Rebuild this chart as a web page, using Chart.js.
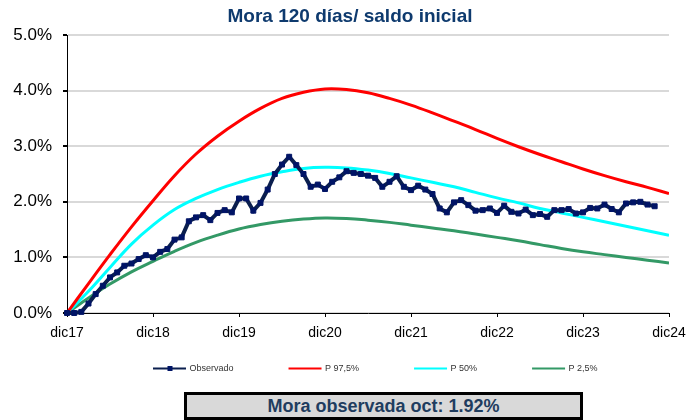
<!DOCTYPE html>
<html>
<head>
<meta charset="utf-8">
<script src="https://cdn.jsdelivr.net/npm/chart.js@4.4.0/dist/chart.umd.min.js"></script>
<style>
  body { margin: 0; background: #fff; }
  #wrap { position: relative; width: 686px; height: 420px; }
  #resumen {
    position: absolute; left: 184px; top: 392px;
    width: 393px; height: 22px;
    border: 3px solid #000; background: #d9d9d9;
    color: #1f3d5f; font: bold 18px "Liberation Sans", Arial, sans-serif;
    line-height: 22px; text-align: center;
  }
</style>
</head>
<body>
<div id="wrap">
  <canvas id="myChart" width="686" height="420"></canvas>
  <div id="resumen">Mora observada oct: 1.92%</div>
</div>
<script>
const CHART_TITLE = 'Mora 120 días/ saldo inicial';
const FONT = '"Liberation Sans", Arial, sans-serif';

// one tick every 12 months, dic17 = month 0
const tickLabels = ['dic17', 'dic18', 'dic19', 'dic20', 'dic21', 'dic22', 'dic23', 'dic24'];

// monthly observed values (%), dic17 .. oct24
const observado = [
    0.00, 0.00, 0.02, 0.17, 0.34, 0.49, 0.64, 0.73, 0.85, 0.89, 0.97, 1.04,
    1.00, 1.10, 1.15, 1.32, 1.36, 1.65, 1.72, 1.76, 1.67, 1.80, 1.85, 1.81,
    2.06, 2.06, 1.84, 1.98, 2.22, 2.50, 2.67, 2.81, 2.66, 2.50, 2.27, 2.31,
    2.23, 2.36, 2.44, 2.55, 2.52, 2.50, 2.47, 2.43, 2.27, 2.36, 2.46, 2.27,
    2.21, 2.29, 2.22, 2.14, 1.88, 1.81, 1.99, 2.03, 1.94, 1.84, 1.85, 1.88,
    1.80, 1.93, 1.82, 1.79, 1.86, 1.76, 1.78, 1.73, 1.85, 1.85, 1.87, 1.79,
    1.81, 1.89, 1.88, 1.95, 1.87, 1.81, 1.97, 1.99, 2.00, 1.95, 1.92
];

// percentile curves, read every 3 months
const curveMonths = [0, 3, 6, 9, 12, 15, 18, 21, 24, 27, 30, 33, 36, 39, 42, 45, 48,
    51, 54, 57, 60, 63, 66, 69, 72, 75, 78, 81, 84];
const p975 = [0, 0.53, 1.05, 1.55, 2.02, 2.47, 2.86, 3.18, 3.45, 3.68, 3.86, 3.97, 4.03,
    4.02, 3.96, 3.86, 3.74, 3.60, 3.45, 3.30, 3.14, 2.99, 2.85, 2.72, 2.59, 2.47, 2.36, 2.26, 2.15];
const p50 = [0, 0.39, 0.82, 1.24, 1.58, 1.86, 2.06, 2.22, 2.35, 2.46, 2.54, 2.60, 2.62,
    2.61, 2.57, 2.51, 2.43, 2.35, 2.27, 2.17, 2.07, 1.98, 1.88, 1.80, 1.72, 1.64, 1.56, 1.48, 1.40];
const p25 = [0, 0.27, 0.52, 0.74, 0.93, 1.11, 1.27, 1.40, 1.51, 1.59, 1.65, 1.69, 1.71,
    1.70, 1.67, 1.63, 1.58, 1.53, 1.48, 1.42, 1.36, 1.30, 1.23, 1.16, 1.10, 1.05, 1.00, 0.95, 0.90];


function toPoints(months, values) {
    return values.map((v, i) => ({ x: months ? months[i] : i, y: v }));
}


function curveDataset(label, values, color) {
    return {
        label: label,
        data: toPoints(curveMonths, values),
        borderColor: color,
        backgroundColor: color,
        borderWidth: 3,
        pointRadius: 0,
        tension: 0.4
    };
}


const titleAndLegend = {  // title on top, legend row under the axis
    id: 'titleAndLegend',
    afterDraw(chart) {
        const ctx = chart.ctx;
        ctx.save();
        ctx.fillStyle = '#0e3a6e';
        ctx.font = 'bold 19px ' + FONT;
        ctx.textAlign = 'center';
        ctx.textBaseline = 'alphabetic';
        ctx.fillText(CHART_TITLE, 350, 21.5);

        ctx.font = '9px ' + FONT;
        ctx.textAlign = 'left';
        ctx.textBaseline = 'middle';
        let x = 153;
        const y = 368.5;
        chart.data.datasets.forEach(ds => {
            ctx.strokeStyle = ds.borderColor;
            ctx.lineWidth = 2;
            ctx.beginPath();
            ctx.moveTo(x, y);
            ctx.lineTo(x + 33, y);
            ctx.stroke();
            if (ds.pointRadius > 0) {
                ctx.fillStyle = ds.pointBackgroundColor;
                ctx.fillRect(x + 14.5, y - 2.5, 5, 5);
            }
            ctx.fillStyle = '#333';
            ctx.fillText(ds.label, x + 36.5, y);
            x += 36.5 + ctx.measureText(ds.label).width + 55;
        });
        ctx.restore();
    }
};


function drawChart() {
    const ctx = document.getElementById('myChart').getContext('2d');
    Chart.defaults.font.family = FONT;
    new Chart(ctx, {
        type: 'line',
        data: {
            datasets: [
                {
                    label: 'Observado',
                    data: toPoints(null, observado),
                    borderColor: '#0b1f4e',
                    backgroundColor: '#0b1f4e',
                    borderWidth: 4,
                    tension: 0,
                    pointStyle: 'rect',
                    pointRadius: 3.5,
                    pointBackgroundColor: '#001466',
                    pointBorderColor: '#001466',
                    pointBorderWidth: 1,
                    clip: false
                },
                curveDataset('P 97,5%', p975, '#ff0000'),
                curveDataset('P 50%', p50, '#00ffff'),
                curveDataset('P 2,5%', p25, '#339966')
            ]
        },
        options: {
            responsive: false,
            animation: false,
            layout: { padding: { top: 35, right: 17, bottom: 60, left: 0 } },
            plugins: {
                legend: { display: false },
                tooltip: { enabled: false }
            },
            scales: {
                x: {
                    type: 'linear',
                    min: 0,
                    max: 84,
                    afterFit(scale) {
                        scale.height = 47;
                        scale.paddingLeft = 0;
                        scale.paddingRight = 0;
                    },
                    ticks: {
                        stepSize: 12,
                        autoSkip: false,
                        maxRotation: 0,
                        padding: 8,
                        color: '#000',
                        font: { size: 14 },
                        callback: (v) => tickLabels[v / 12] ?? ''
                    },
                    grid: { drawOnChartArea: false, tickLength: 4, tickColor: '#000' },
                    border: { color: '#000', width: 1 }
                },
                y: {
                    min: 0,
                    max: 5,
                    afterFit(scale) {
                        scale.width = 67;
                        scale.paddingTop = 0;
                        scale.paddingBottom = 0;
                    },
                    ticks: {
                        stepSize: 1,
                        padding: 11,
                        color: '#000',
                        font: { size: 17 },
                        callback: (v) => v.toFixed(1) + '%'
                    },
                    grid: { color: '#d9d9d9', lineWidth: 2, tickLength: 4, tickColor: '#000' },
                    border: { color: '#000', width: 1 }
                }
            }
        },
        plugins: [titleAndLegend]
    });
}

drawChart();
</script>
</body>
</html>
